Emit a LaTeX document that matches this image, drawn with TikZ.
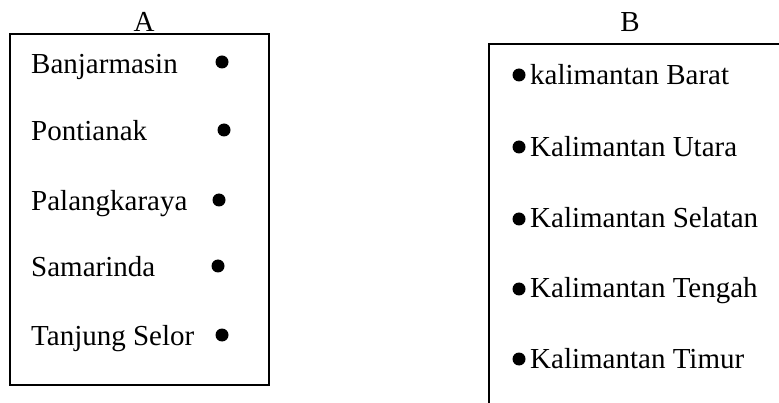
\documentclass[tikz,border=0pt]{standalone}
\usepackage{fontspec}
\setmainfont{Liberation Serif}
\usepackage{tikz}
\usetikzlibrary{positioning}

\begin{document}
\begin{tikzpicture}[x=1pt, y=-1pt,
        word/.style = {anchor=base west, inner sep=0pt, font=\fontsize{29}{34}\selectfont},
        head/.style = {anchor=base, inner sep=0pt, font=\fontsize{29}{34}\selectfont},
        dot/.style = {circle, fill=black, minimum size=13pt, inner sep=0pt},
        box/.style = {line width=1.5pt}
        ]
        \useasboundingbox (0,0) rectangle (779,403);

        % column A
        \node[head] (hA) at (144,32) {A};
        \draw[box] (10,34) rectangle (269,385);
        \node[word] (a1) at (31,74) {Banjarmasin};
        \node[word] (a2) at (31,141) {Pontianak};
        \node[word] (a3) at (31,211) {Palangkaraya};
        \node[word] (a4) at (31,277) {Samarinda};
        \node[word] (a5) at (31,345) {Tanjung Selor};
        \node[dot] (p1) at (222,62) {};
        \node[dot] (p2) at (224,130) {};
        \node[dot] (p3) at (219,200) {};
        \node[dot] (p4) at (218,266) {};
        \node[dot] (p5) at (222,335) {};

        % column B
        \node[head] (hB) at (630,32) {B};
        \draw[box] (779,44) -- (489,44) -- (489,403);
        \node[word] (b1) at (530,85) {kalimantan Barat};
        \node[word] (b2) at (530,157) {Kalimantan Utara};
        \node[word] (b3) at (530,228) {Kalimantan Selatan};
        \node[word] (b4) at (530,298) {Kalimantan Tengah};
        \node[word] (b5) at (530,368) {Kalimantan Timur};
        \node[dot] (q1) at (519,75) {};
        \node[dot] (q2) at (519,147) {};
        \node[dot] (q3) at (519,219) {};
        \node[dot] (q4) at (519,289) {};
        \node[dot] (q5) at (519,359) {};
    \end{tikzpicture}
\end{document}
